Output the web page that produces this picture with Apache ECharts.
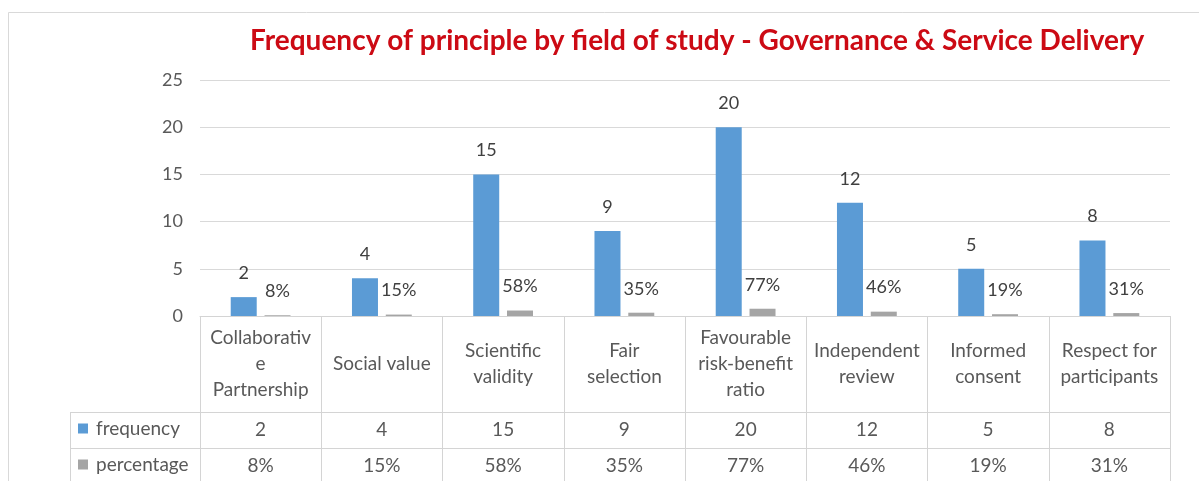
<!DOCTYPE html>
<html>
<head>
<meta charset="utf-8">
<script src="https://cdn.jsdelivr.net/npm/echarts@6/dist/echarts.min.js"></script>
<style>
  html, body { margin: 0; padding: 0; background: #fff; }
  #chart { width: 1199px; height: 481px; }
</style>
</head>
<body>
<div id="chart"></div>
<script>
// data
const categories = ['Collaborative Partnership', 'Social value', 'Scientific validity', 'Fair selection',
  'Favourable risk-benefit ratio', 'Independent review', 'Informed consent', 'Respect for participants'];
// header cell text as wrapped in the reference table
const headerLabels = ['Collaborativ\ne\nPartnership', 'Social value', 'Scientific\nvalidity', 'Fair\nselection',
  'Favourable\nrisk-benefit\nratio', 'Independent\nreview', 'Informed\nconsent', 'Respect for\nparticipants'];
const frequency = [2, 4, 15, 9, 20, 12, 5, 8];
const percentage = [0.08, 0.15, 0.58, 0.35, 0.77, 0.46, 0.19, 0.31];
const yTicks = { min: 0, max: 25, interval: 5 };

const pct = v => Math.round(v * 100) + '%';
const font = 'Lato, "Open Sans", sans-serif';
const lineColor = '#d4d4d4';
const textColor = '#595959';
const tableSize = 19;

const chart = echarts.init(document.getElementById('chart'));

const option = {
  backgroundColor: '#fff',
  title: {
    text: 'Frequency of principle by field of study - Governance & Service Delivery',
    left: 245,
    top: 22,
    textStyle: { color: '#cc0a14', fontFamily: font, fontWeight: 'bold', fontSize: 28 }
  },
  legend: [
    {
      data: ['frequency'], left: 78, top: 419, padding: 0, itemWidth: 10, itemHeight: 10,
      icon: 'rect',
      textStyle: { color: textColor, fontFamily: font, fontSize: tableSize, padding: [0, 0, 0, 3] }
    },
    {
      data: ['percentage'], left: 78, top: 455, padding: 0, itemWidth: 10, itemHeight: 10,
      icon: 'rect',
      textStyle: { color: textColor, fontFamily: font, fontSize: tableSize, padding: [0, 0, 0, 3] }
    }
  ],
  grid: { left: 200, right: 29, top: 80, bottom: 165 },
  xAxis: [
    {
      type: 'category',
      data: categories,
      axisLine: { lineStyle: { color: lineColor } },
      axisTick: { show: true, length: 170, lineStyle: { color: lineColor } },
      axisLabel: {
        interval: 0, margin: 48, verticalAlign: 'middle', lineHeight: 26,
        color: textColor, fontFamily: font, fontSize: tableSize,
        formatter: (v, i) => headerLabels[i]
      }
    },
    {
      type: 'category',
      data: frequency.map(String),
      position: 'bottom',
      offset: 114,
      axisLine: { show: false },
      axisTick: { show: false },
      axisLabel: { interval: 0, margin: 0, verticalAlign: 'middle', color: textColor, fontFamily: font, fontSize: tableSize }
    },
    {
      type: 'category',
      data: percentage.map(pct),
      position: 'bottom',
      offset: 150,
      axisLine: { show: false },
      axisTick: { show: false },
      axisLabel: { interval: 0, margin: 0, verticalAlign: 'middle', color: textColor, fontFamily: font, fontSize: tableSize }
    }
  ],
  yAxis: {
    type: 'value',
    min: yTicks.min,
    max: yTicks.max,
    interval: yTicks.interval,
    axisLabel: { color: textColor, fontFamily: font, fontSize: 18, margin: 17 },
    splitLine: { lineStyle: { color: '#d9d9d9' } },
    axisLine: { show: false },
    axisTick: { show: false }
  },
  series: [
    {
      name: 'frequency',
      type: 'bar',
      data: frequency,
      barWidth: 26,
      barGap: '30%',
      itemStyle: { color: '#5b9bd5' },
      label: { show: true, position: 'top', distance: 15, color: '#404040', fontFamily: font, fontSize: 18 }
    },
    {
      name: 'percentage',
      type: 'bar',
      data: percentage,
      barWidth: 26,
      itemStyle: { color: '#a5a5a5' },
      label: {
        show: true, position: 'top', distance: 15, color: '#404040', fontFamily: font, fontSize: 18,
        formatter: p => pct(p.value)
      }
    }
  ],
  graphic: [
    // chart border (only top and left edges fall inside the picture)
    { type: 'rect', shape: { x: 8.5, y: 12.5, width: 1300, height: 600 }, style: { fill: 'none', stroke: '#d9d9d9', lineWidth: 1 }, silent: true },
    // data table rules
    { type: 'line', shape: { x1: 70, y1: 412.5, x2: 1170, y2: 412.5 }, style: { stroke: lineColor, lineWidth: 1 } },
    { type: 'line', shape: { x1: 70, y1: 448.5, x2: 1170, y2: 448.5 }, style: { stroke: lineColor, lineWidth: 1 } },
    { type: 'line', shape: { x1: 70.5, y1: 412, x2: 70.5, y2: 481 }, style: { stroke: lineColor, lineWidth: 1 } }
  ]
};

chart.setOption(option);
</script>
</body>
</html>
